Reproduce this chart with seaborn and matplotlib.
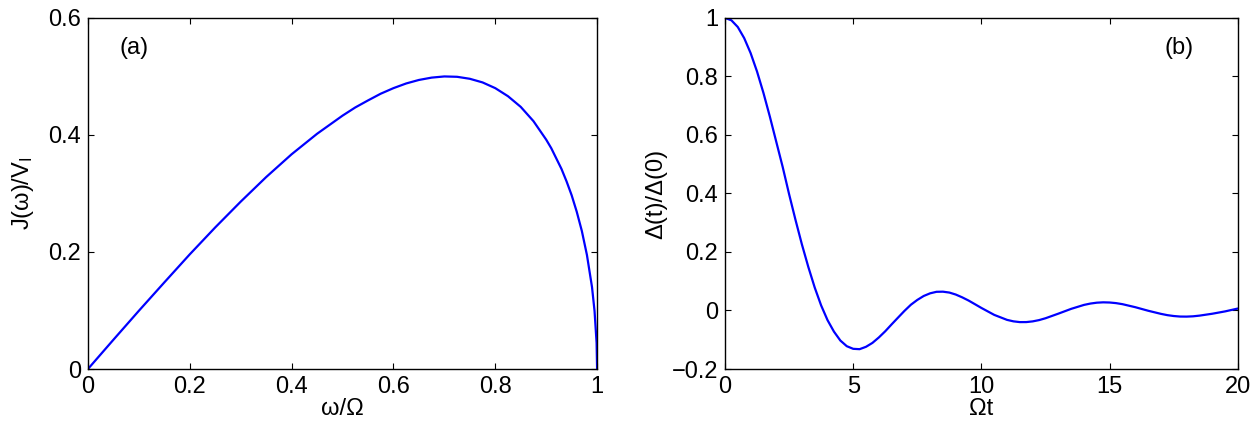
import numpy as np
import pandas as pd
import seaborn as sns
import matplotlib.pyplot as plt

# Panel (a): spectral density J(w)/V_I vs w/Omega
omega = [0.0, 0.05, 0.1, 0.15, 0.2, 0.25, 0.3, 0.35, 0.4, 0.45, 0.5, 0.525,
         0.55, 0.575, 0.6, 0.625, 0.65, 0.675, 0.7, 0.725, 0.75, 0.775, 0.8,
         0.825, 0.85, 0.875, 0.9, 0.91, 0.93, 0.94, 0.95, 0.96, 0.97, 0.98,
         0.99, 0.995, 0.999, 1.0]
spectral = [0.0, 0.050, 0.0995, 0.148, 0.196, 0.242, 0.286, 0.328, 0.367,
            0.402, 0.433, 0.447, 0.459, 0.4705, 0.480, 0.488, 0.494, 0.498,
            0.500, 0.4994, 0.496, 0.4898, 0.480, 0.4662, 0.448, 0.4236, 0.392,
            0.3773, 0.342, 0.3207, 0.297, 0.2688, 0.236, 0.195, 0.140, 0.099,
            0.0447, 0.0]

# Panel (b): Delta(t)/Delta(0) vs Omega t
times = [0.0, 0.25, 0.5, 0.75, 1.0, 1.25, 1.5, 1.75, 2.0, 2.25, 2.5, 2.75,
         3.0, 3.25, 3.5, 3.75, 4.0, 4.25, 4.5, 4.75, 5.0, 5.25, 5.5, 5.75,
         6.0, 6.25, 6.5, 6.75, 7.0, 7.25, 7.5, 7.75, 8.0, 8.25, 8.5, 8.75,
         9.0, 9.25, 9.5, 9.75, 10.0, 10.5, 11.0, 11.25, 11.5, 11.75, 12.0,
         12.25, 12.5, 13.0, 13.5, 14.0, 14.25, 14.5, 14.75, 15.0, 15.25, 15.5,
         16.0, 16.5, 17.0, 17.25, 17.5, 17.75, 18.0, 18.25, 18.5, 19.0, 19.5,
         20.0]
gap = [1.0, 0.992, 0.969, 0.931, 0.880, 0.817, 0.744, 0.663, 0.577, 0.491,
       0.398, 0.310, 0.226, 0.149, 0.0785, 0.0174, -0.033, -0.0722, -0.1027,
       -0.122, -0.131, -0.1322, -0.1241, -0.1108, -0.0922, -0.0710, -0.0473,
       -0.0242, -0.0013, 0.0197, 0.0361, 0.0496, 0.0587, 0.0639, 0.0643,
       0.0613, 0.0545, 0.0450, 0.034, 0.0214, 0.0087, -0.015, -0.0321,
       -0.0371, -0.0397, -0.0396, -0.0372, -0.0328, -0.0265, -0.0108, 0.0056,
       0.0191, 0.0237, 0.0267, 0.0279, 0.0273, 0.0252, 0.0216, 0.0113,
       -0.0008, -0.0115, -0.0159, -0.0189, -0.0207, -0.0209, -0.0199, -0.0176,
       -0.0111, -0.0031, 0.0067]

sns.set_style("ticks")
plt.rcParams['font.family'] = ['Liberation Sans', 'DejaVu Sans']
plt.rcParams['font.size'] = 17
plt.rcParams['text.color'] = 'black'
plt.rcParams['axes.labelcolor'] = 'black'
plt.rcParams['xtick.color'] = 'black'
plt.rcParams['ytick.color'] = 'black'
plt.rcParams['xtick.direction'] = 'in'
plt.rcParams['ytick.direction'] = 'in'
plt.rcParams['xtick.top'] = True
plt.rcParams['ytick.right'] = True
plt.rcParams['mathtext.fontset'] = 'custom'
plt.rcParams['mathtext.rm'] = 'Liberation Sans'
plt.rcParams['mathtext.it'] = 'Liberation Sans'

fig = plt.figure(figsize=(12.51, 4.24), dpi=100)
ax_a = fig.add_axes([0.0703, 0.1297, 0.407, 0.828])
ax_b = fig.add_axes([0.5795, 0.1297, 0.410, 0.828])

df_a = pd.DataFrame({"w": omega, "J": spectral})
df_b = pd.DataFrame({"t": times, "D": gap})

sns.lineplot(data=df_a, x="w", y="J", ax=ax_a, color="#0000ff", linewidth=1.6)
sns.lineplot(data=df_b, x="t", y="D", ax=ax_b, color="#0000ff", linewidth=1.6)

ax_a.set_xlim(0, 1.0)
ax_a.set_ylim(0, 0.6)
ax_a.set_xticks([0, 0.2, 0.4, 0.6, 0.8, 1.0])
ax_a.set_xticklabels(["0", "0.2", "0.4", "0.6", "0.8", "1"])
ax_a.set_yticks([0, 0.2, 0.4, 0.6])
ax_a.set_yticklabels(["0", "0.2", "0.4", "0.6"])
ax_a.set_xlabel("ω/Ω", labelpad=0)
ax_a.set_ylabel(r"J(ω)/V$_\mathrm{I}$", labelpad=9)
ax_a.text(0.09, 0.549, "(a)", fontsize=17, ha="center", va="center")

ax_b.set_xlim(0, 20)
ax_b.set_ylim(-0.2, 1.0)
ax_b.set_xticks([0, 5, 10, 15, 20])
ax_b.set_yticks([-0.2, 0, 0.2, 0.4, 0.6, 0.8, 1.0])
ax_b.set_yticklabels(["\u22120.2", "0", "0.2", "0.4", "0.6", "0.8", "1"])
ax_b.set_xlabel("Ωt", labelpad=0)
ax_b.set_ylabel("Δ(t)/Δ(0)", labelpad=3)
ax_b.text(17.7, 0.897, "(b)", fontsize=17, ha="center", va="center")

for ax in (ax_a, ax_b):
    for s in ax.spines.values():
        s.set_visible(True)
        s.set_linewidth(1.0)
        s.set_color("black")
    ax.tick_params(length=4, width=0.8, labelsize=17, pad=5)

fig.savefig("out.png", dpi=100)
